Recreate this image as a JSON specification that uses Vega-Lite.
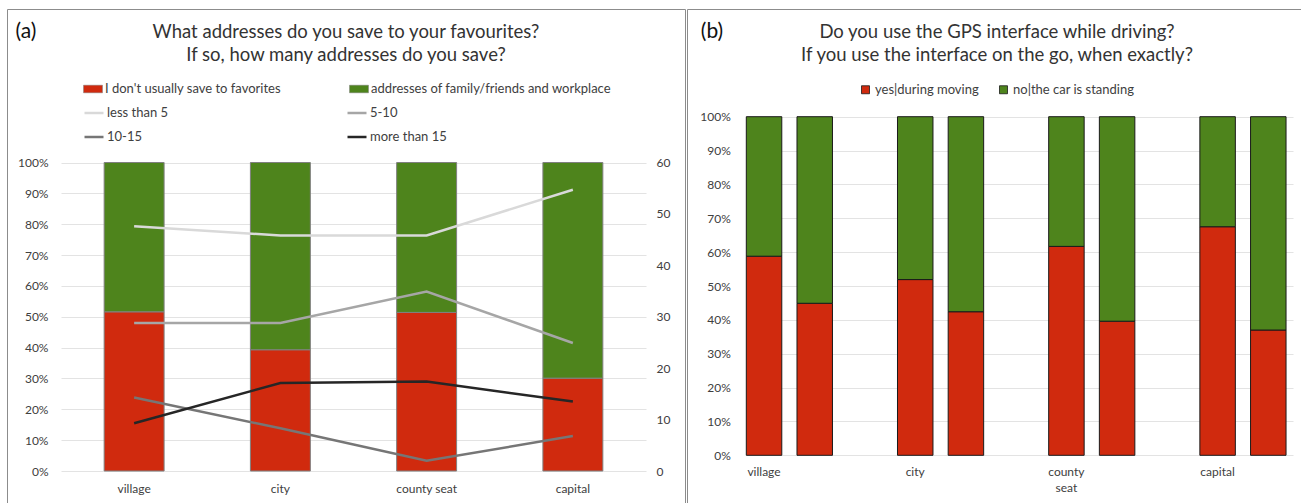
{
  "$schema": "https://vega.github.io/schema/vega-lite/v6.json",
  "padding": {"left": 6, "top": 8, "right": 0, "bottom": 0},
  "autosize": {"type": "pad"},
  "background": "white",
  "spacing": 0,
  "config": {
    "font": "Lato",
    "view": {"stroke": "#8c8c8c", "strokeWidth": 1},
    "axis": {"labelFont": "Lato", "labelFontSize": 12, "labelColor": "#404040", "ticks": false, "domain": false, "gridColor": "#e3e3e3", "gridWidth": 1},
    "legend": {"labelFont": "Lato", "labelFontSize": 13, "labelColor": "#404040", "title": null, "labelLimit": 0},
    "title": {"font": "Lato", "fontSize": 18.5, "fontWeight": "normal", "color": "#333333", "anchor": "middle", "frame": "group", "lineHeight": 23, "offset": -55}
  },
  "resolve": {"scale": {"fill": "independent"}, "legend": {"fill": "independent"}},
  "hconcat": [
    {
      "width": 678,
      "height": 500,
      "title": {"text": ["What addresses do you save to your favourites?", "If so, how many addresses do you save?"]},
      "layer": [
        {
          "data": {"values": [
            {"place": "village", "answer": "I don't usually save to favorites", "share": 0.516},
            {"place": "village", "answer": "addresses of family/friends and workplace", "share": 0.484},
            {"place": "city", "answer": "I don't usually save to favorites", "share": 0.393},
            {"place": "city", "answer": "addresses of family/friends and workplace", "share": 0.607},
            {"place": "county seat", "answer": "I don't usually save to favorites", "share": 0.514},
            {"place": "county seat", "answer": "addresses of family/friends and workplace", "share": 0.486},
            {"place": "capital", "answer": "I don't usually save to favorites", "share": 0.301},
            {"place": "capital", "answer": "addresses of family/friends and workplace", "share": 0.699}
          ]},
          "mark": {"type": "bar", "stroke": "#808080", "strokeWidth": 1},
          "encoding": {
            "x": {
              "field": "place", "type": "nominal",
              "sort": ["village", "city", "county seat", "capital"],
              "scale": {"range": [54, 639], "paddingInner": 0.59, "paddingOuter": 0.295},
              "axis": {"title": null, "labelAngle": 0, "offset": -38, "labelPadding": 12}
            },
            "y": {
              "field": "share", "type": "quantitative", "stack": "zero",
              "scale": {"domain": [0, 1], "range": [462, 153.5], "nice": false},
              "axis": {
                "format": ".0%", "values": [0, 0.1, 0.2, 0.3, 0.4, 0.5, 0.6, 0.7, 0.8, 0.9, 1],
                "offset": -54, "labelPadding": 13, "grid": true,
                "title": "(a)", "titleAngle": 0, "titleX": -46, "titleY": 22, "titleAlign": "left", "titleBaseline": "middle",
                "titleFont": "Lato", "titleFontSize": 21, "titleFontWeight": "normal", "titleColor": "#111111"
              }
            },
            "fill": {
              "field": "answer", "type": "nominal",
              "scale": {"domain": ["I don't usually save to favorites", "addresses of family/friends and workplace"], "range": ["#d02a0e", "#4e841c"]},
              "legend": {
                "orient": "none", "legendX": 76, "legendY": 70, "direction": "horizontal", "columns": 2, "columnPadding": 67,
                "symbolType": "M-1,-0.4H1V0.4H-1Z", "symbolSize": 361, "symbolStrokeColor": "#808080", "symbolStrokeWidth": 0.5,
                "labelOffset": 2
              }
            },
            "order": {"field": "answer", "sort": "ascending"}
          }
        },
        {
          "data": {"values": [
            {"place": "village", "group": "less than 5", "count": 47.6},
            {"place": "city", "group": "less than 5", "count": 45.8},
            {"place": "county seat", "group": "less than 5", "count": 45.8},
            {"place": "capital", "group": "less than 5", "count": 54.7},
            {"place": "village", "group": "5-10", "count": 28.8},
            {"place": "city", "group": "5-10", "count": 28.8},
            {"place": "county seat", "group": "5-10", "count": 34.9},
            {"place": "capital", "group": "5-10", "count": 24.9},
            {"place": "village", "group": "10-15", "count": 14.3},
            {"place": "city", "group": "10-15", "count": 8.3},
            {"place": "county seat", "group": "10-15", "count": 2.0},
            {"place": "capital", "group": "10-15", "count": 6.8},
            {"place": "village", "group": "more than 15", "count": 9.3},
            {"place": "city", "group": "more than 15", "count": 17.1},
            {"place": "county seat", "group": "more than 15", "count": 17.4},
            {"place": "capital", "group": "more than 15", "count": 13.5}
          ]},
          "mark": {"type": "line", "strokeWidth": 2.5},
          "encoding": {
            "x": {"field": "place", "type": "nominal", "sort": ["village", "city", "county seat", "capital"]},
            "y": {
              "field": "count", "type": "quantitative",
              "scale": {"domain": [0, 60], "range": [462, 153.5], "nice": false},
              "axis": {"orient": "right", "offset": -39, "values": [0, 10, 20, 30, 40, 50, 60], "labelPadding": 10, "grid": false, "title": null}
            },
            "stroke": {
              "field": "group", "type": "nominal",
              "scale": {"domain": ["less than 5", "5-10", "10-15", "more than 15"], "range": ["#d9d9d9", "#a6a6a6", "#767676", "#262626"]},
              "legend": {
                "orient": "none", "legendX": 76, "legendY": 93, "direction": "horizontal", "columns": 2, "columnPadding": 173, "rowPadding": 6,
                "symbolType": "stroke", "symbolSize": 361, "symbolStrokeWidth": 2.5, "labelOffset": 2
              }
            }
          }
        }
      ],
      "resolve": {"scale": {"y": "independent"}}
    },
    {
      "width": 620,
      "height": 500,
      "title": {"text": ["Do you use the GPS interface while driving?", "If you use the interface on the go, when exactly?"]},
      "data": {"values": [
        {"place": "village", "question": "while driving", "answer": "yes|during moving", "share": 0.588},
        {"place": "village", "question": "while driving", "answer": "no|the car is standing", "share": 0.412},
        {"place": "village", "question": "on the go", "answer": "yes|during moving", "share": 0.449},
        {"place": "village", "question": "on the go", "answer": "no|the car is standing", "share": 0.551},
        {"place": "city", "question": "while driving", "answer": "yes|during moving", "share": 0.519},
        {"place": "city", "question": "while driving", "answer": "no|the car is standing", "share": 0.481},
        {"place": "city", "question": "on the go", "answer": "yes|during moving", "share": 0.424},
        {"place": "city", "question": "on the go", "answer": "no|the car is standing", "share": 0.576},
        {"place": "county seat", "question": "while driving", "answer": "yes|during moving", "share": 0.617},
        {"place": "county seat", "question": "while driving", "answer": "no|the car is standing", "share": 0.383},
        {"place": "county seat", "question": "on the go", "answer": "yes|during moving", "share": 0.396},
        {"place": "county seat", "question": "on the go", "answer": "no|the car is standing", "share": 0.604},
        {"place": "capital", "question": "while driving", "answer": "yes|during moving", "share": 0.675},
        {"place": "capital", "question": "while driving", "answer": "no|the car is standing", "share": 0.325},
        {"place": "capital", "question": "on the go", "answer": "yes|during moving", "share": 0.370},
        {"place": "capital", "question": "on the go", "answer": "no|the car is standing", "share": 0.630}
      ]},
      "mark": {"type": "bar", "stroke": "#1a1a1a", "strokeWidth": 1},
      "encoding": {
        "x": {
          "field": "place", "type": "nominal",
          "sort": ["village", "city", "county seat", "capital"],
          "scale": {"range": [59.3, 606], "paddingInner": 0.43, "paddingOuter": 0.023, "align": 0},
          "axis": {"title": null, "labelAngle": 0, "offset": -53.7, "labelPadding": 11, "labelOffset": -25.4, "labelExpr": "split(datum.label, ' ')", "labelLineHeight": 16}
        },
        "xOffset": {
          "field": "question", "type": "nominal", "sort": ["while driving", "on the go"],
          "scale": {"paddingInner": 0.3, "paddingOuter": 0}
        },
        "y": {
          "field": "share", "type": "quantitative", "stack": "zero",
          "scale": {"domain": [0, 1], "range": [446.3, 107.7], "nice": false},
          "axis": {
            "format": ".0%", "values": [0, 0.1, 0.2, 0.3, 0.4, 0.5, 0.6, 0.7, 0.8, 0.9, 1],
            "offset": -59.3, "labelPadding": 16, "grid": true,
            "title": "(b)", "titleAngle": 0, "titleX": -46, "titleY": 22, "titleAlign": "left", "titleBaseline": "middle",
            "titleFont": "Lato", "titleFontSize": 21, "titleFontWeight": "normal", "titleColor": "#111111"
          }
        },
        "fill": {
          "field": "answer", "type": "nominal",
          "scale": {"domain": ["yes|during moving", "no|the car is standing"], "range": ["#d02a0e", "#4e841c"]},
          "legend": {
            "orient": "none", "legendX": 172, "legendY": 74, "direction": "horizontal", "columnPadding": 18,
            "symbolType": "square", "symbolSize": 64, "symbolStrokeColor": "#1a1a1a", "symbolStrokeWidth": 0.8,
            "labelOffset": 3
          }
        },
        "order": {"field": "answer", "sort": "descending"}
      }
    }
  ]
}
